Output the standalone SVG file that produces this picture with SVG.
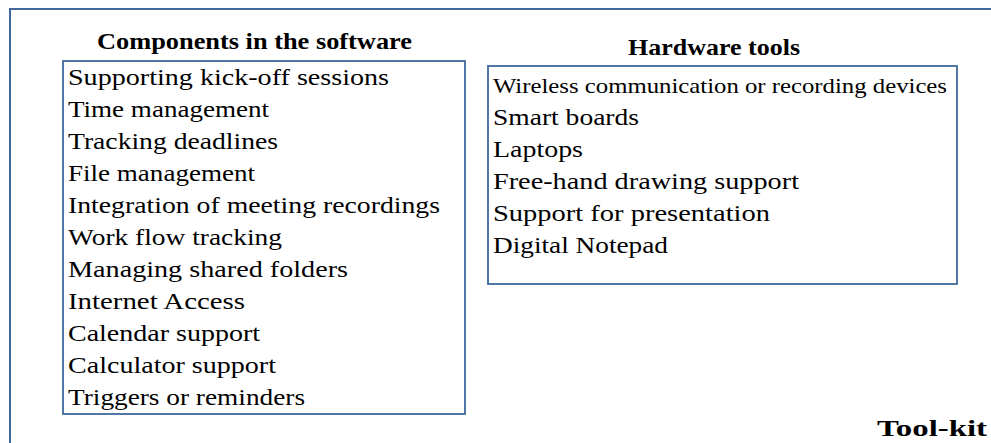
<svg xmlns="http://www.w3.org/2000/svg" width="991" height="443" viewBox="0 0 991 443">
<style>
.frame{fill:none;stroke:#41699c;stroke-width:2}
.box{fill:#ffffff;stroke:#41699c;stroke-width:1.8}
.title{font-family:"Liberation Serif","Times New Roman",serif;font-weight:bold;font-size:24px;fill:#000}
.item{font-family:"Liberation Serif","Times New Roman",serif;font-size:24px;fill:#000}
.small{font-size:21px}
</style>
<rect width="991" height="443" fill="#ffffff"/>
<g id="toolkit">
<rect class="frame" x="10" y="9" width="1000" height="500"/>
<text class="title" x="877" y="436" textLength="110" lengthAdjust="spacingAndGlyphs" font-size="26">Tool-kit</text>
</g>
<g id="software">
<text class="title" x="97" y="49" textLength="315" lengthAdjust="spacingAndGlyphs">Components in the software</text>
<rect class="box" x="63" y="61" width="402" height="353"/>
<text class="item" x="68" y="85" textLength="321" lengthAdjust="spacingAndGlyphs">Supporting kick-off sessions</text>
<text class="item" x="68" y="117" textLength="201" lengthAdjust="spacingAndGlyphs">Time management</text>
<text class="item" x="68" y="149" textLength="210" lengthAdjust="spacingAndGlyphs">Tracking deadlines</text>
<text class="item" x="68" y="181" textLength="187" lengthAdjust="spacingAndGlyphs">File management</text>
<text class="item" x="68" y="213" textLength="372" lengthAdjust="spacingAndGlyphs">Integration of meeting recordings</text>
<text class="item" x="68" y="245" textLength="214" lengthAdjust="spacingAndGlyphs">Work flow tracking</text>
<text class="item" x="68" y="277" textLength="280" lengthAdjust="spacingAndGlyphs">Managing shared folders</text>
<text class="item" x="68" y="309" textLength="177" lengthAdjust="spacingAndGlyphs">Internet Access</text>
<text class="item" x="68" y="341" textLength="192" lengthAdjust="spacingAndGlyphs">Calendar support</text>
<text class="item" x="68" y="373" textLength="208" lengthAdjust="spacingAndGlyphs">Calculator support</text>
<text class="item" x="68" y="405" textLength="237" lengthAdjust="spacingAndGlyphs">Triggers or reminders</text>
</g>
<g id="hardware">
<text class="title" x="628" y="55" textLength="172" lengthAdjust="spacingAndGlyphs">Hardware tools</text>
<rect class="box" x="488" y="66" width="469" height="218"/>
<text class="item small" x="493" y="93" textLength="454" lengthAdjust="spacingAndGlyphs">Wireless communication or recording devices</text>
<text class="item" x="493" y="125" textLength="146" lengthAdjust="spacingAndGlyphs">Smart boards</text>
<text class="item" x="493" y="157" textLength="90" lengthAdjust="spacingAndGlyphs">Laptops</text>
<text class="item" x="493" y="189" textLength="306" lengthAdjust="spacingAndGlyphs">Free-hand drawing support</text>
<text class="item" x="493" y="221" textLength="277" lengthAdjust="spacingAndGlyphs">Support for presentation</text>
<text class="item" x="493" y="253" textLength="175" lengthAdjust="spacingAndGlyphs">Digital Notepad</text>
</g>
<g id="connectors"></g>
</svg>
